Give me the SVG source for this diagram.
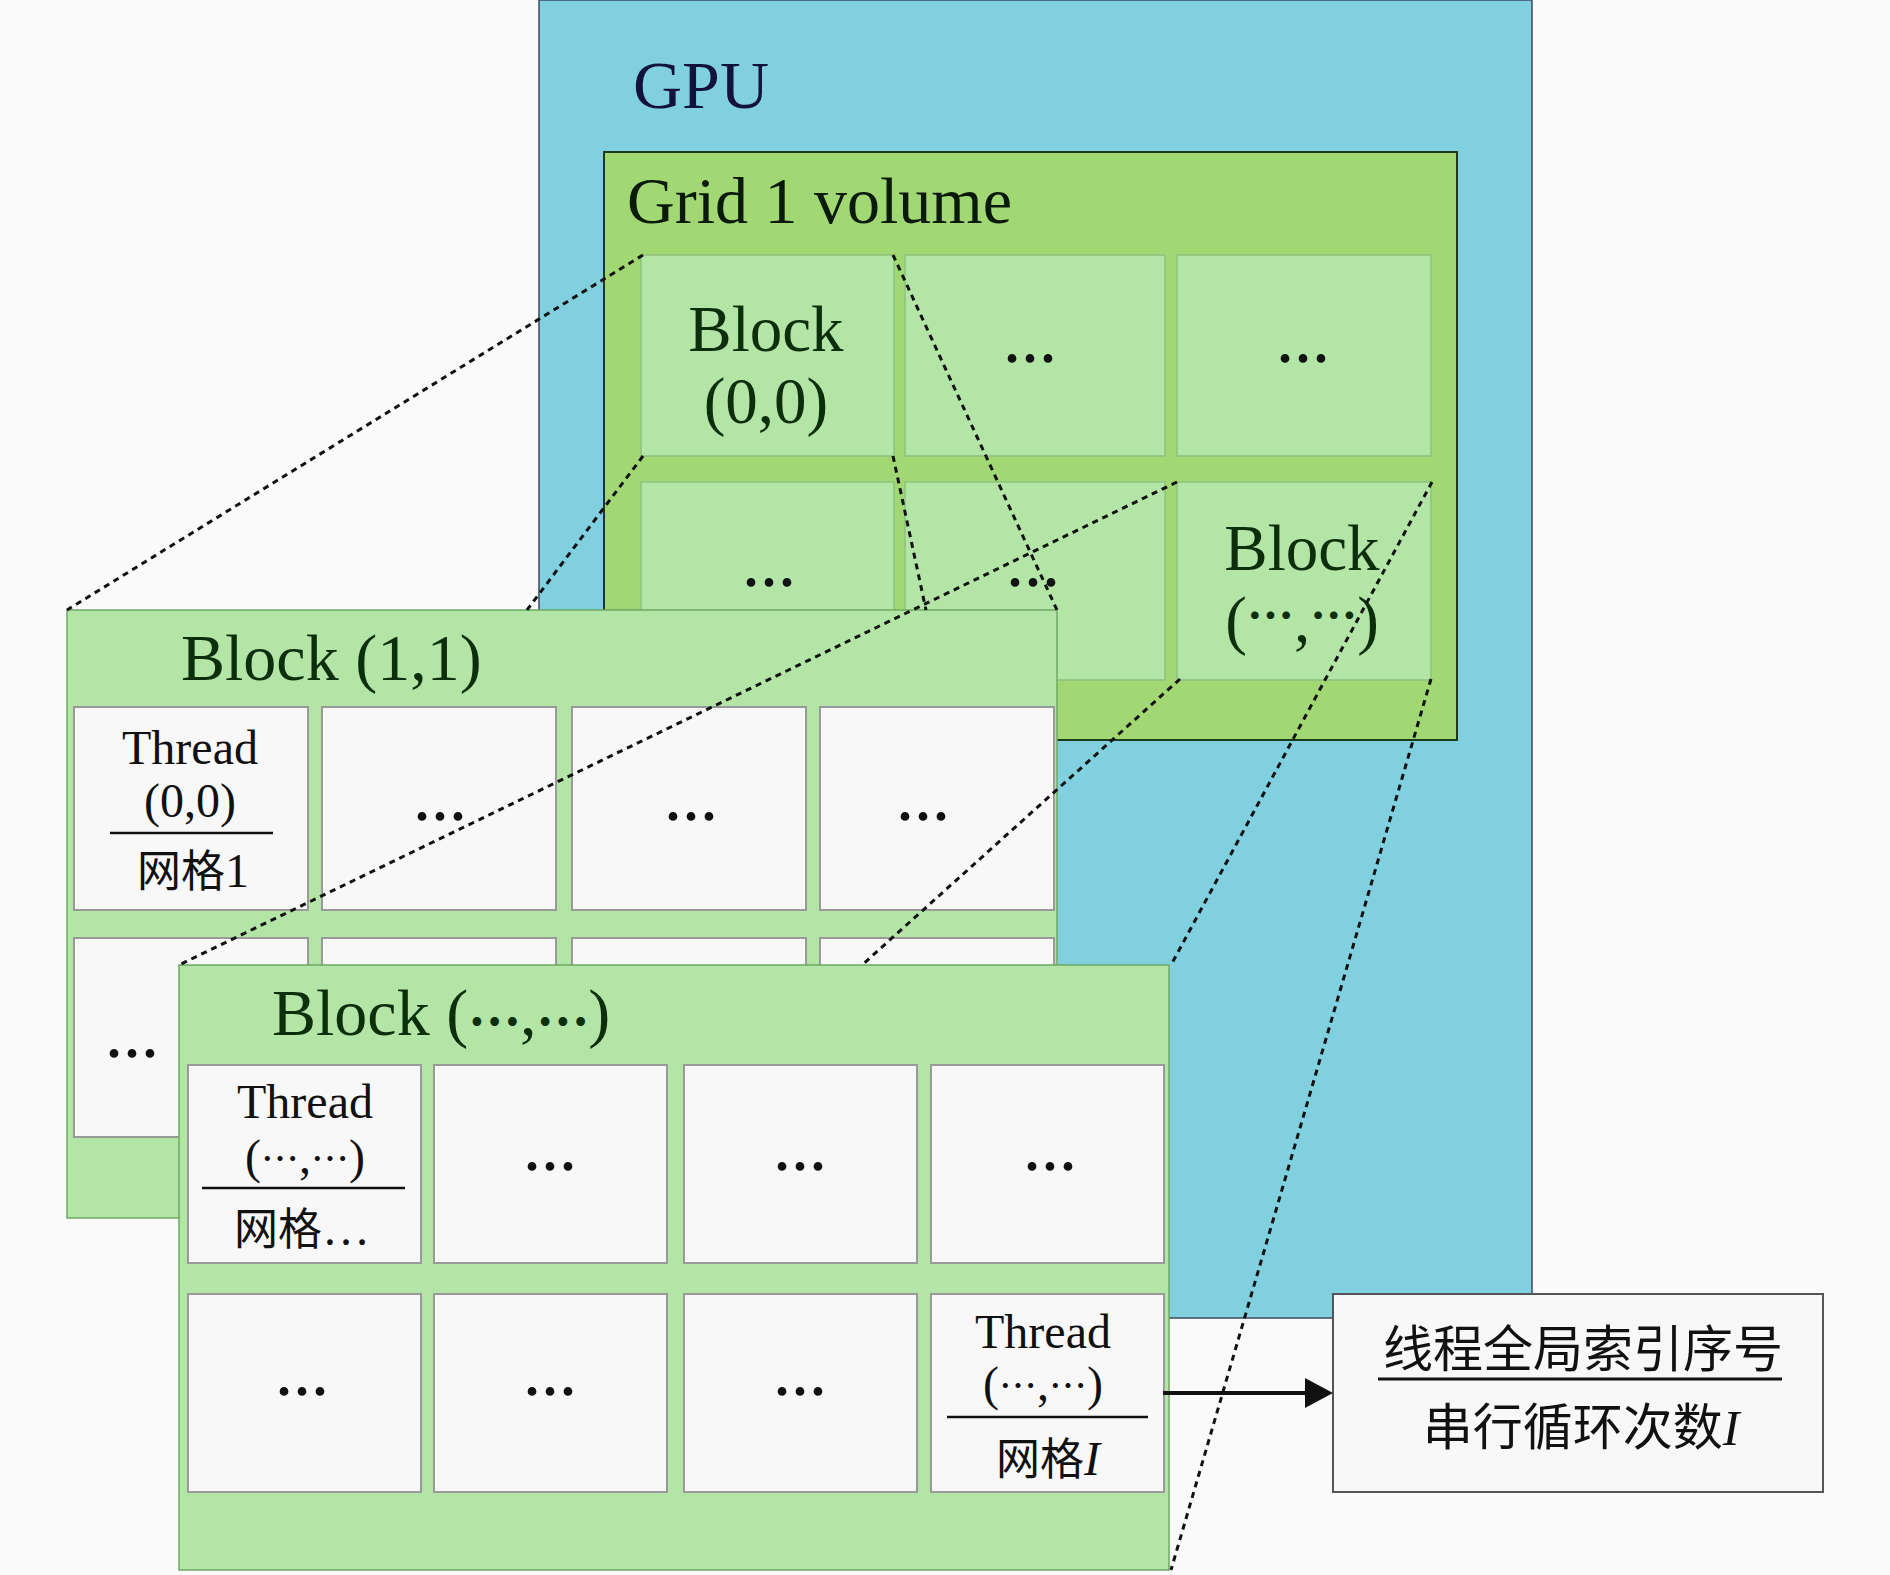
<svg xmlns="http://www.w3.org/2000/svg" width="1890" height="1575" viewBox="0 0 1890 1575">
<defs>
<style>
.ttl{font-family:"Liberation Serif","Noto Sans CJK SC",serif;font-size:66px;fill:#0b2e0b}
.gttl{font-family:"Liberation Serif","Noto Sans CJK SC",serif;font-size:66px;fill:#0a1a0a}
.bl{font-family:"Liberation Serif","Noto Sans CJK SC",serif;font-size:65px;fill:#0b2e0b;text-anchor:middle}
.thr{font-family:"Liberation Serif","Noto Sans CJK SC",serif;font-size:48px;fill:#111;text-anchor:middle}
.cjk{font-family:"Noto Sans CJK SC",sans-serif}
.ell{font-family:"Noto Sans CJK SC",sans-serif}
.tell{font-family:"Noto Sans CJK SC",sans-serif;font-size:47px;font-weight:700}
.dots{font-family:"Noto Sans CJK SC",sans-serif;font-size:54px;font-weight:700;fill:#111;text-anchor:middle;dominant-baseline:central}
.gcell{fill:#b3e5a6;stroke:#8cc27c;stroke-width:1.5}
.tcell{fill:#f8f8f8;stroke:#9a9a9a;stroke-width:2}
.panel{fill:#b2e5a6;stroke:#6fa863;stroke-width:1.5}
.conn{stroke:#111;stroke-width:3;stroke-dasharray:6 5;fill:none}
.bar{stroke:#111;stroke-width:2.5}
.res{font-family:"Noto Sans CJK SC",sans-serif;font-size:50px;fill:#111;text-anchor:middle}
</style>
<marker id="arrowhead" markerUnits="userSpaceOnUse" markerWidth="30" markerHeight="32" refX="2" refY="16" orient="auto">
<path d="M0,1 L28,16 L0,31 Z" fill="#111"/>
</marker>
</defs>
<rect x="0" y="0" width="1890" height="1575" fill="#fafafa"/>

<g id="gpu">
<rect x="539" y="0" width="993" height="1318" fill="#80d0e0" stroke="#3c4a60" stroke-width="1.5"/>
<text x="633" y="108" font-family="Liberation Serif, serif" font-size="68" fill="#12123c">GPU</text>
</g>

<g id="grid">
<rect x="604" y="152" width="853" height="588" fill="#a2d873" stroke="#1e3a1e" stroke-width="2"/>
<text class="gttl" x="627" y="223">Grid 1 volume</text>
</g>

<g id="grid-block-0-0">
<rect class="gcell" x="641" y="255" width="253" height="201"/>
<text class="bl" x="766" y="351">Block</text>
<text class="bl" x="766" y="423">(0,0)</text>
</g>
<g id="grid-block-0-1">
<rect class="gcell" x="905" y="255" width="260" height="201"/>
<text class="dots" x="1030" y="355">…</text>
</g>
<g id="grid-block-0-2">
<rect class="gcell" x="1177" y="255" width="254" height="201"/>
<text class="dots" x="1303" y="355">…</text>
</g>
<g id="grid-block-1-0">
<rect class="gcell" x="641" y="482" width="253" height="198"/>
<text class="dots" x="769" y="579">…</text>
</g>
<g id="grid-block-1-1">
<rect class="gcell" x="905" y="482" width="260" height="198"/>
<text class="dots" x="1033" y="579">…</text>
</g>
<g id="grid-block-n-n">
<rect class="gcell" x="1177" y="482" width="254" height="198"/>
<text class="bl" x="1302" y="570">Block</text>
<text class="bl" x="1302" y="642">(<tspan class="tell" baseline-shift="9">…</tspan>,<tspan class="tell" baseline-shift="9">…</tspan>)</text>
</g>

<g id="block-1-1">
<rect class="panel" x="67" y="610" width="990" height="608"/>
<text class="ttl" x="181" y="680">Block (1,1)</text>
<rect class="tcell" x="74" y="707" width="234" height="203"/>
<text class="thr" x="190" y="764">Thread</text>
<text class="thr" x="190" y="817">(0,0)</text>
<line class="bar" x1="110" y1="833" x2="273" y2="833"/>
<text class="thr" x="193" y="887"><tspan class="cjk" font-size="44">网格</tspan>1</text>
<rect class="tcell" x="322" y="707" width="234" height="203"/>
<text class="dots" x="440" y="813">…</text>
<rect class="tcell" x="572" y="707" width="234" height="203"/>
<text class="dots" x="691" y="813">…</text>
<rect class="tcell" x="820" y="707" width="234" height="203"/>
<text class="dots" x="923" y="813">…</text>
<rect class="tcell" x="74" y="938" width="234" height="199"/>
<text class="dots" x="132" y="1050">…</text>
<rect class="tcell" x="322" y="938" width="234" height="199"/>
<rect class="tcell" x="572" y="938" width="234" height="199"/>
<rect class="tcell" x="820" y="938" width="234" height="199"/>
</g>

<g id="block-n-n">
<rect class="panel" x="179" y="965" width="990" height="605"/>
<text class="ttl" x="272" y="1035">Block (<tspan class="tell" baseline-shift="10">…</tspan>,<tspan class="tell" baseline-shift="10">…</tspan>)</text>
<rect class="tcell" x="188" y="1065" width="233" height="198"/>
<text class="thr" x="305" y="1118">Thread</text>
<text class="thr" x="305" y="1173">(<tspan class="ell" font-size="38">…</tspan>,<tspan class="ell" font-size="38">…</tspan>)</text>
<line class="bar" x1="202" y1="1188" x2="405" y2="1188"/>
<text class="thr" x="302" y="1245"><tspan class="cjk" font-size="44">网格</tspan>…</text>
<rect class="tcell" x="434" y="1065" width="233" height="198"/>
<text class="dots" x="550" y="1163">…</text>
<rect class="tcell" x="684" y="1065" width="233" height="198"/>
<text class="dots" x="800" y="1163">…</text>
<rect class="tcell" x="931" y="1065" width="233" height="198"/>
<text class="dots" x="1050" y="1163">…</text>
<rect class="tcell" x="188" y="1294" width="233" height="198"/>
<text class="dots" x="302" y="1388">…</text>
<rect class="tcell" x="434" y="1294" width="233" height="198"/>
<text class="dots" x="550" y="1388">…</text>
<rect class="tcell" x="684" y="1294" width="233" height="198"/>
<text class="dots" x="800" y="1388">…</text>
<rect class="tcell" x="931" y="1294" width="233" height="198"/>
<text class="thr" x="1043" y="1348">Thread</text>
<text class="thr" x="1043" y="1400">(<tspan class="ell" font-size="38">…</tspan>,<tspan class="ell" font-size="38">…</tspan>)</text>
<line class="bar" x1="947" y1="1417" x2="1148" y2="1417" stroke-width="4"/>
<text class="thr" x="1048" y="1475"><tspan class="cjk" font-size="44">网格</tspan><tspan font-style="italic">I</tspan></text>
</g>

<g id="result">
<rect x="1333" y="1294" width="490" height="198" fill="#f8f8f8" stroke="#555" stroke-width="2"/>
<text class="res" x="1583" y="1367">线程全局索引序号</text>
<line x1="1378" y1="1379" x2="1782" y2="1379" stroke="#111" stroke-width="3"/>
<text class="res" x="1581" y="1445">串行循环次数<tspan font-family="Liberation Serif, serif" font-style="italic">I</tspan></text>
</g>

<g id="connectors">
<line class="conn" x1="643" y1="255" x2="67" y2="610"/>
<line class="conn" x1="893" y1="255" x2="1057" y2="610"/>
<line class="conn" x1="643" y1="456" x2="527" y2="610"/>
<line class="conn" x1="893" y1="456" x2="926" y2="610"/>
<line class="conn" x1="1177" y1="482" x2="179" y2="965"/>
<line class="conn" x1="1432" y1="482" x2="1171" y2="965"/>
<line class="conn" x1="1180" y1="679" x2="862" y2="965"/>
<line class="conn" x1="1431" y1="679" x2="1171" y2="1570"/>
<line x1="1163" y1="1393" x2="1307" y2="1393" stroke="#111" stroke-width="4" marker-end="url(#arrowhead)"/>
</g>
</svg>
